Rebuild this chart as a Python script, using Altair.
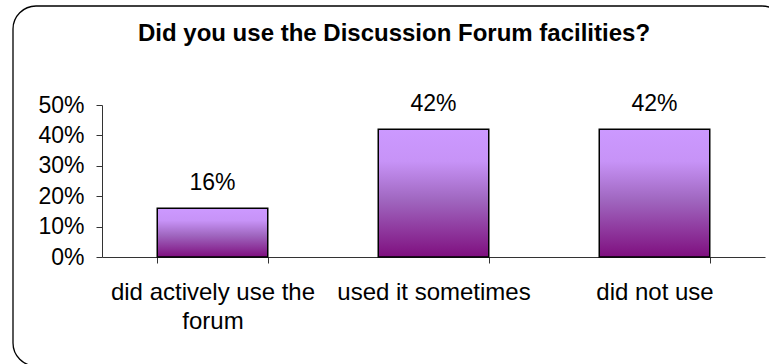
import altair as alt
import pandas as pd

categories = ["did actively use the forum", "used it sometimes", "did not use"]
shares = [0.16, 0.42, 0.42]
title_text = ["Did you use the Discussion Forum facilities?"]
y_ticks = [0, 0.1, 0.2, 0.3, 0.4, 0.5]

df = pd.DataFrame({"answer": categories, "share": shares})
title_df = pd.DataFrame({"t": title_text})

FONT = "Liberation Sans"
W, H = 663, 152

grad = alt.Gradient(
    gradient="linear",
    x1=0, y1=0, x2=0, y2=1,
    stops=[
        alt.GradientStop(color="#CC99FF", offset=0),
        alt.GradientStop(color="#C793F7", offset=0.25),
        alt.GradientStop(color="#A067C0", offset=0.55),
        alt.GradientStop(color="#7F0F7F", offset=1),
    ],
)

x_axis = alt.Axis(
    title=None,
    labelAngle=0,
    labelFont=FONT,
    labelFontSize=24,
    labelColor="black",
    labelLineHeight=29,
    labelPadding=17,
    labelLimit=300,
    labelOverlap=False,
    tickBand="extent",
    tickSize=6,
    tickColor="#333333",
    domainColor="#333333",
    labelExpr="datum.label == 'did actively use the forum' ? ['did actively use the', 'forum'] : datum.label",
)
y_axis = alt.Axis(
    title=None,
    values=y_ticks,
    tickCount=6,
    format=".0%",
    grid=False,
    labelFont=FONT,
    labelFontSize=23,
    labelColor="black",
    labelPadding=12,
    labelOverlap=False,
    labelBound=False,
    labelFlush=False,
    tickSize=6,
    tickColor="#333333",
    domainColor="#333333",
)
x_enc = alt.X("answer:N", sort=categories,
              scale=alt.Scale(paddingInner=0.5, paddingOuter=0.25), axis=x_axis)
y_enc = alt.Y("share:Q", scale=alt.Scale(domain=[0, 0.5], nice=False), axis=y_axis)

bars = alt.Chart(df).mark_bar(
    color=grad, stroke="black", strokeWidth=1.5
).encode(x=x_enc, y=y_enc)

labels = alt.Chart(df).mark_text(
    font=FONT, fontSize=23, color="black", baseline="alphabetic", dy=-18
).encode(
    x=x_enc,
    y=y_enc,
    text=alt.Text("share:Q", format=".0%"),
)

title = alt.Chart(title_df).mark_text(
    font=FONT, fontSize=24, fontWeight="bold", color="black",
    baseline="middle", align="center",
).encode(
    x=alt.value(292), y=alt.value(-71), text="t:N",
)

border = alt.Chart(title_df).mark_rect(
    fill=None, stroke="black", strokeWidth=1.3, cornerRadius=23
).encode(
    x=alt.value(-89), x2=alt.value(683),
    y=alt.value(-99), y2=alt.value(261),
)

chart = alt.layer(border, title, bars, labels).properties(
    width=W,
    height=H,
    autosize=alt.AutoSizeParams(type="none"),
    padding={"left": 102, "top": 105, "right": 4, "bottom": 107},
).configure_view(stroke=None)

chart.save("out.html", embed_options={"renderer": "svg", "actions": False})
